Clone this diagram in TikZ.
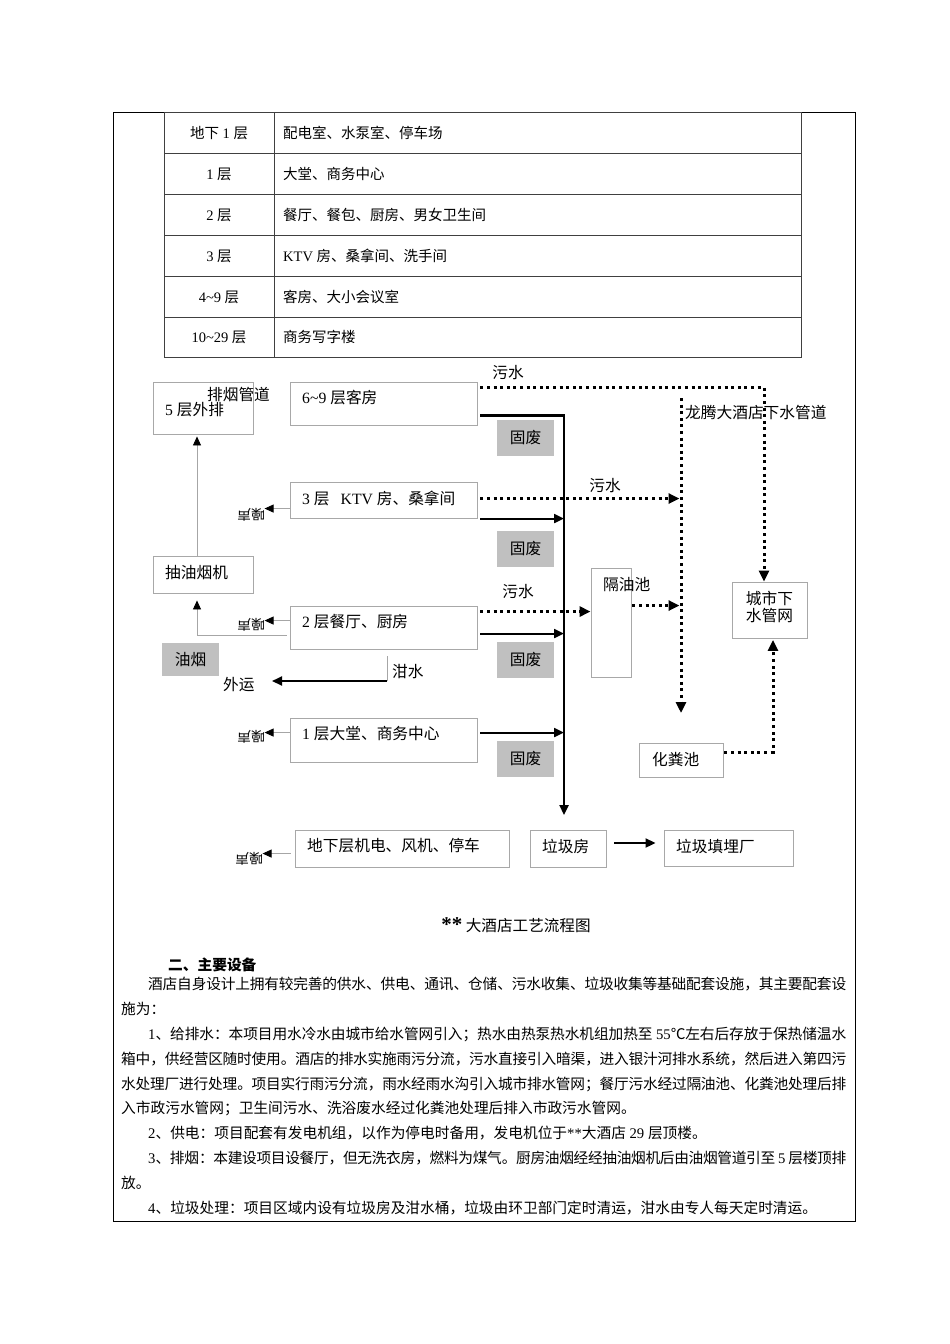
\documentclass[tikz,border=0pt]{standalone}
\usepackage{fontspec}
\usepackage{graphicx}
\setmainfont{Noto Sans CJK SC}
\newfontfamily\tnr{Liberation Serif}
\usetikzlibrary{arrows.meta,calc}
\XeTeXlinebreaklocale "zh"
\XeTeXlinebreakskip=0pt plus 1pt minus 0.5pt
\definecolor{bxc}{HTML}{A8A8A8}
\definecolor{gfill}{HTML}{C0C0C0}
\definecolor{tline}{HTML}{404040}
\newcommand\fsz[1]{\fontsize{#1pt}{#1pt}\selectfont}
\newcommand\latn[1]{{\tnr #1}}
\begin{document}
\begin{tikzpicture}[x=1pt,y=-1pt,
  bx/.style={draw=bxc,line width=0.9pt,inner sep=0pt},
  gfb/.style={fill=gfill,inner sep=0pt,minimum width=57pt,minimum height=36pt,font=\fsz{15.7}},
  dt/.style={inner sep=0pt,anchor=west,font=\fsz{15.7}},
  tt/.style={inner sep=0pt,font=\fsz{14.5}},
  dotl/.style={line width=3pt,dash pattern=on 3pt off 3.6pt,-{Triangle[length=11pt,width=10pt]}},
  sol/.style={line width=2pt,-{Triangle[length=10pt,width=9pt]}},
  thl/.style={draw=gray!70,line width=0.8pt,-{Triangle[length=9pt,width=8pt,color=black]}},
  noise/.style={inner sep=0pt,rotate=180,font=\fsz{14}},
]
\useasboundingbox (0,0) rectangle (950,1344);
\fill[white] (0,0) rectangle (950,1344);
% page frame
\draw[line width=1pt] (113,112) rectangle (855,1221);
% table
\draw[tline,line width=1pt] (164,112) rectangle (801,357);
\foreach \yy in {153,194,235,276,317} \draw[tline,line width=0.9pt] (164,\yy) -- (801,\yy);
\draw[tline,line width=0.9pt] (274,112) -- (274,357);
\node[tt] (r1a) at (219,133) {地下\latn{ 1 }层};
\node[tt] (r2a) at (219,174) {\latn{1 }层};
\node[tt] (r3a) at (219,215) {\latn{2 }层};
\node[tt] (r4a) at (219,256) {\latn{3 }层};
\node[tt] (r5a) at (219,297) {\latn{4\textasciitilde 9 }层};
\node[tt] (r6a) at (219,337) {\latn{10\textasciitilde 29 }层};
\node[tt,anchor=west] (r1b) at (283,133) {配电室、水泵室、停车场};
\node[tt,anchor=west] (r2b) at (283,174) {大堂、商务中心};
\node[tt,anchor=west] (r3b) at (283,215) {餐厅、餐包、厨房、男女卫生间};
\node[tt,anchor=west] (r4b) at (283,256) {\latn{KTV }房、桑拿间、洗手间};
\node[tt,anchor=west] (r5b) at (283,297) {客房、大小会议室};
\node[tt,anchor=west] (r6b) at (283,337) {商务写字楼};
% boxes
\node[bx,minimum width=100pt,minimum height=52pt] (b5) at (203,408) {};
\node[bx,minimum width=187pt,minimum height=43pt] (f69) at (383.5,403.5) {};
\node[bx,minimum width=187pt,minimum height=36pt] (f3) at (383.5,500) {};
\node[bx,minimum width=187pt,minimum height=43pt] (f2) at (383.5,627.5) {};
\node[bx,minimum width=187pt,minimum height=44pt] (f1) at (383.5,740) {};
\node[bx,minimum width=100pt,minimum height=37pt] (ynj) at (203,574.5) {};
\node[gfb,minimum height=33pt] (yy) at (190.5,659.5) {油烟};
\node[gfb] (gf1) at (525.5,438) {固废};
\node[gfb] (gf2) at (525.5,549) {固废};
\node[gfb] (gf3) at (525.5,660) {固废};
\node[gfb] (gf4) at (525.5,759) {固废};
\node[bx,minimum width=40pt,minimum height=109pt] (gyc) at (611,622.5) {};
\node[bx,minimum width=75pt,minimum height=56pt] (csx) at (769.5,610) {};
\node[bx,minimum width=84pt,minimum height=34pt] (hfc) at (681,760) {};
\node[bx,minimum width=214pt,minimum height=37pt] (dx) at (402,848.5) {};
\node[bx,minimum width=76pt,minimum height=37pt] (ljf) at (568,848.5) {};
\node[bx,minimum width=129pt,minimum height=36pt] (ljt) at (728.5,848) {};
% box texts
\node[dt] (b5t) at (165,410) {\latn{5 }层外排};
\node[dt,anchor=center] (pyg) at (238.5,395) {排烟管道};
\node[dt] (f69t) at (302,398) {\latn{6\textasciitilde 9 }层客房};
\node[dt] (f3t) at (302,498) {\latn{3 }层\hspace{11pt}\latn{KTV }房、桑拿间};
\node[dt] (f2t) at (302,622) {\latn{2 }层餐厅、厨房};
\node[dt] (f1t) at (302,734) {\latn{1 }层大堂、商务中心};
\node[dt] (ynjt) at (165,573) {抽油烟机};
\node[dt] (gyct) at (603,585) {隔油池};
\node[dt,anchor=center,align=center] (csxt) at (769.5,607) {城市下\\[2pt]水管网};
\node[dt] (hfct) at (652,760) {化粪池};
\node[dt] (dxt) at (307,846) {地下层机电、风机、停车};
\node[dt] (ljft) at (542,846) {垃圾房};
\node[dt] (ljtt) at (676,846) {垃圾填埋厂};
\node[dt,anchor=center] (ws1) at (508,373) {污水};
\node[dt,anchor=center] (ws2) at (605,486) {污水};
\node[dt,anchor=center] (ws3) at (518,592) {污水};
\node[dt] (ltn) at (685,413) {龙腾大酒店下水管道};
\node[dt] (gsw) at (392,672) {泔水};
\node[dt] (wy) at (223,685) {外运};
\node[noise] (n3) at (251,515) {噪声};
\node[noise] (n2) at (251,625) {噪声};
\node[noise] (n1) at (251,737) {噪声};
\node[noise] (n0) at (249,859) {噪声};
% dotted sewage lines
\coordinate (vt) at (681,398);
\coordinate (vb) at (681,713);
\draw[dotl] ($(f69.north east)+(3,6)$) -| ($(csx.north)+(-5.5,0)$);
\draw[dotl] (vt) -- (vb);
\draw[dotl,shorten >=1.5pt] ($(f3.north east)+(3,17)$) coordinate (s3) -- (s3 -| vt);
\draw[dotl] ($(f2.north east)+(3,6)$) coordinate (s2) -- (s2 -| gyc.west);
\draw[dotl,shorten >=1.5pt] ($(gyc.north east)+(1,38)$) coordinate (sg) -- (sg -| vt);
\draw[dotl,shorten >=1.5pt] ($(hfc.east)+(1,-8)$) -| ($(csx.south)+(3.5,0)$);
% solid waste lines
\coordinate (bot) at (564,815);
\draw[sol,line width=2.3pt] ($(f69.north east)+(3,34)$) -| (bot);
\draw[sol] ($(f3.north east)+(3,37)$) coordinate (t3) -- (t3 -| bot);
\draw[sol] ($(f2.north east)+(3,28)$) coordinate (t2) -- (t2 -| bot);
\draw[sol] ($(f1.north east)+(3,15)$) coordinate (t1) -- (t1 -| bot);
\draw[sol] ($(ljf.east)+(8,-5.5)$) -- ($(ljt.west)+(-8,-5)$);
% noise arrows
\draw[thl] ($(f3.north west)+(0,27)$) -- ++(-25,0);
\draw[thl] ($(f2.north west)+(0,15)$) -- ++(-25,0);
\draw[thl] ($(f1.north west)+(0,15)$) -- ++(-25,0);
\draw[thl] ($(dx.north west)+(-4,24)$) -- ++(-28,0);
% fume path
\draw[thl,shorten >=2pt] ($(ynj.north)+(-6,0)$) -- ($(b5.south)+(-6,0)$);
\draw[thl,shorten >=7pt] ($(f2.north west)+(-3,30)$) -| ($(ynj.south)+(-6,0)$);
% swill
\coordinate (sw1) at (387,656);
\coordinate (sw2) at (387,681);
\coordinate (sw3) at (272,681);
\draw[draw=gray!70,line width=0.8pt] (sw1) -- (sw2);
\draw[sol] (sw2) -- (sw3);
% caption
\node[inner sep=0pt,font=\fsz{15.6}] (cap) at (516,925) {{\tnr\bfseries\fsz{21}**} 大酒店工艺流程图};
% heading and body
\node[inner sep=0pt,anchor=west,font=\fsz{14.7}\bfseries] (hd) at (168,965) {二、主要设备};
\node[anchor=north west,inner sep=0pt,text width=725pt,align=justify,font=\fsz{14.7}] (body) at (121,975.6) {\setlength\parindent{27pt}\setlength\parskip{0pt}\baselineskip=24.8pt%
\hspace*{27pt}\rule{0pt}{14pt}酒店自身设计上拥有较完善的供水、供电、通讯、仓储、污水收集、垃圾收集等基础配套设施，其主要配套设\linebreak 施为：\par
\latn{1}、给排水：本项目用水冷水由城市给水管网引入；热水由热泵热水机组加热至\latn{\ 55}℃左右后存放于保热储温水\linebreak 箱中，供经营区随时使用。酒店的排水实施雨污分流，污水直接引入暗渠，进入银汁河排水系统，然后进入第四污\linebreak 水处理厂进行处理。项目实行雨污分流，雨水经雨水沟引入城市排水管网；餐厅污水经过隔油池、化粪池处理后排\linebreak 入市政污水管网；卫生间污水、洗浴废水经过化粪池处理后排入市政污水管网。\par
\latn{2}、供电：项目配套有发电机组，以作为停电时备用，发电机位于\latn{**}大酒店\latn{ 29 }层顶楼。\par
\latn{3}、排烟：本建设项目设餐厅，但无洗衣房，燃料为煤气。厨房油烟经经抽油烟机后由油烟管道引至\latn{\ 5 }层楼顶排\linebreak 放。\par
\latn{4}、垃圾处理：项目区域内设有垃圾房及泔水桶，垃圾由环卫部门定时清运，泔水由专人每天定时清运。\par};
\end{tikzpicture}
\end{document}
